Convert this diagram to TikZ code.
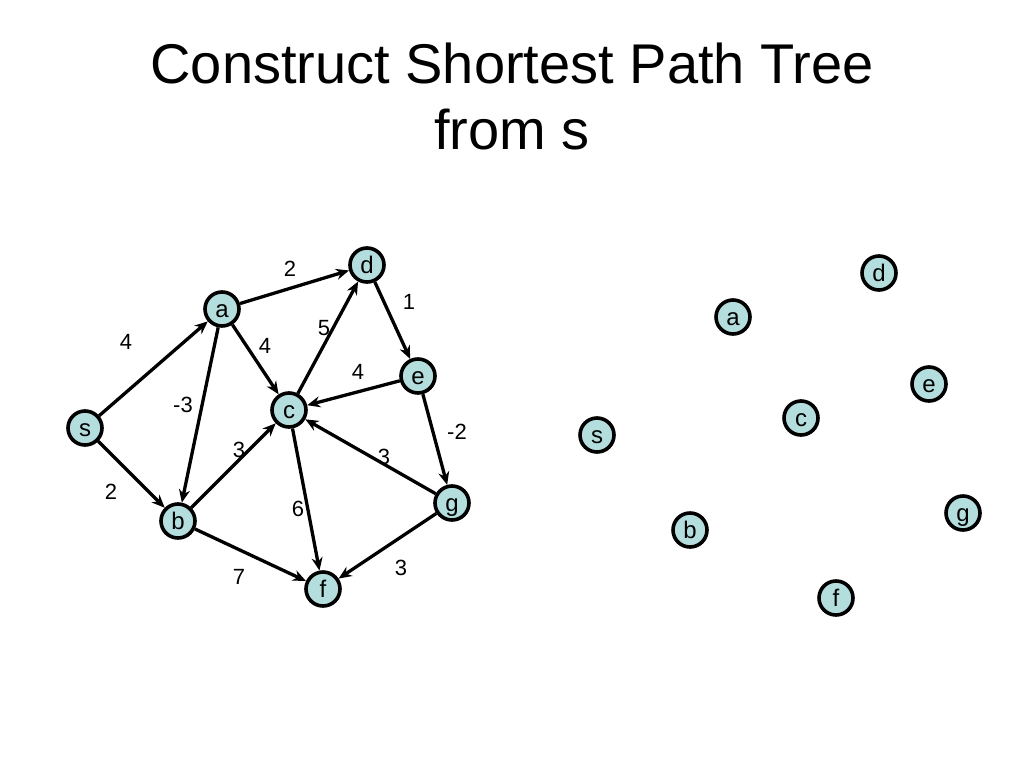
\documentclass[tikz,border=0pt]{standalone}
\usepackage{fontspec}
\setmainfont{Liberation Sans}
\usetikzlibrary{arrows.meta}
\definecolor{nodefill}{RGB}{180,222,222}
\begin{document}
\begin{tikzpicture}[x=1pt,y=-1pt,
  vtx/.style={circle,draw=black,line width=3.6pt,fill=nodefill,minimum size=34pt,inner sep=0pt,text height=16pt,text depth=0pt,font=\fontsize{24}{26}\selectfont},
  edge/.style={line width=3.3pt,-{Stealth[length=13pt,width=11pt]}},
  wt/.style={font=\fontsize{22}{24}\selectfont},
  ttl/.style={font=\fontsize{56}{62}\selectfont,anchor=base}]
\useasboundingbox (0,0) rectangle (1024,768);
\node[ttl] (t1) at (512,83) {Construct Shortest Path Tree};
\node[ttl] (t2) at (512,149) {from s};
% left graph
\node[vtx] (s) at (85,428) {s};
\node[vtx] (a) at (222,309) {a};
\node[vtx] (d) at (367,265) {d};
\node[vtx] (e) at (418,376) {e};
\node[vtx] (c) at (289,410) {c};
\node[vtx] (b) at (178,521) {b};
\node[vtx] (f) at (323,589) {f};
\node[vtx] (g) at (452,503) {g};
\draw[edge] (s) -- (a);
\draw[edge] (s) -- (b);
\draw[edge] (a) -- (d);
\draw[edge] (a) -- (c);
\draw[edge] (a) -- (b);
\draw[edge] (d) -- (e);
\draw[edge] (c) -- (d);
\draw[edge] (e) -- (c);
\draw[edge] (e) -- (g);
\draw[edge] (b) -- (c);
\draw[edge] (g) -- (c);
\draw[edge] (c) -- (f);
\draw[edge] (b) -- (f);
\draw[edge] (g) -- (f);
\node[wt] (w1) at (290,269) {2};
\node[wt] (w2) at (409,302) {1};
\node[wt] (w3) at (126,342) {4};
\node[wt] (w4) at (324,328) {5};
\node[wt] (w5) at (265,346) {4};
\node[wt] (w6) at (358,372) {4};
\node[wt] (w7) at (183,405) {-3};
\node[wt] (w8) at (457,432) {-2};
\node[wt] (w9) at (239,450) {3};
\node[wt] (w10) at (384,457) {3};
\node[wt] (w11) at (111,492) {2};
\node[wt] (w12) at (298,509) {6};
\node[wt] (w13) at (239,577) {7};
\node[wt] (w14) at (401,568) {3};
% right graph
\node[vtx] (s2) at (597,435) {s};
\node[vtx] (a2) at (733,317) {a};
\node[vtx] (d2) at (879,273) {d};
\node[vtx] (e2) at (929,384) {e};
\node[vtx] (c2) at (801,418) {c};
\node[vtx] (b2) at (690,530) {b};
\node[vtx] (f2) at (836,598) {f};
\node[vtx] (g2) at (963,513) {g};
\end{tikzpicture}
\end{document}
